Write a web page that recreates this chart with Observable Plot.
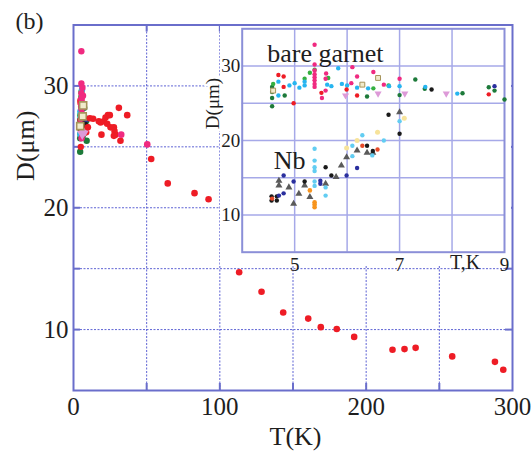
<!DOCTYPE html>
<html><head><meta charset="utf-8">
<script src="https://cdn.jsdelivr.net/npm/d3@7"></script>
<script src="https://cdn.jsdelivr.net/npm/@observablehq/plot@0.6"></script>
<style>
html,body{margin:0;padding:0;background:#fff;}
#wrap{position:relative;width:531px;height:451px;overflow:hidden;background:#fff;}
#wrap svg{position:absolute;left:0;top:0;}
#insetbg{position:absolute;left:220px;top:26px;width:291px;height:240px;background:#fff;}
</style></head><body>
<div id="wrap"></div>
<script>
// ---------- main panel data: T (K), D (µm) ----------
const mainRedT = [9.8,11.2,13.4,17.3,18.5,20.7,21.9,23.5,24.8,23.0,25.3,27.6,28.0,28.7,19.1,31.0,36.7,27.6,32.1,53.1,64.4,82.7,92.3,113.2,128.5,143.3,160.4,169.0,179.9,191.8,218,226.2,233.8,258.8,288,293.7];
const mainRedD = [26.6,27.35,27.3,27.1,27.0,27.1,27.4,27.6,27.6,26.9,26.6,26.6,26.3,26.0,26.0,28.2,27.6,25.9,25.5,24.0,22.0,21.2,20.7,14.7,13.1,11.4,10.9,10.2,10.05,9.4,8.35,8.4,8.5,7.8,7.35,6.7];
const mainMagentaT = [32.6,50.4];
const mainMagentaD = [26.0,25.2];

// ---------- bare garnet (low T, shown in inset and in main) ----------
const gMagenta = [[5.38,32.85],[5.38,30.2],[5.38,29.4],[5.38,28.9],[5.38,28.5],[5.38,28.1],[5.38,27.6],[5.38,27.2],[5.59,28.3],[5.6,29.0],[5.52,25.7],[6.08,27.7],[6.1,29.85],[6.19,28.6],[6.5,29.2],[6.7,27.5],[7.0,28.3],[5.59,26.7]];
const gRed = [[4.69,28.8],[4.79,28.6],[4.79,27.2],[4.98,25.0],[5.51,26.4],[5.99,26.85],[6.19,26.05],[8.7,26.2]];
const gCyan = [[4.69,27.9],[4.69,26.05],[4.9,27.4],[5.0,27.7],[5.09,27.1],[5.19,27.9],[5.19,27.4],[5.62,27.5],[5.7,27.3],[5.83,29.7],[5.9,27.6],[6.0,27.4],[6.19,27.1],[6.4,27.0],[6.8,27.3],[7.0,27.3],[7.49,27.2],[8.1,26.3]];
const gGreen = [[5.29,29.1],[5.38,29.5],[5.64,28.4],[5.19,28.3],[6.79,27.4],[6.5,27.0],[4.59,27.6]];
const gDarkGreen = [[4.57,27.2],[4.57,26.5],[4.57,25.7],[4.57,24.6],[4.81,26.05],[6.38,25.9],[7.0,26.1],[7.3,28.2],[7.48,26.95],[8.2,26.35],[8.7,27.15],[8.81,26.7],[9.0,25.5]];
const gBlack = [[7.61,26.85]];
const gNavy = [[8.81,27.3]];
const gPinkTri = [[5.97,26.05],[6.59,26.3],[7.1,26.3],[7.89,26.3]];
const gSquare = [[4.59,26.7],[6.29,27.5],[6.59,28.4]];

// ---------- Nb film ----------
const nbBlack = [[4.56,12.5],[4.56,11.95],[4.66,12.5],[4.66,11.95],[5.19,14.5],[5.59,16.4],[5.7,15.3],[6.38,19.3],[6.79,23.45],[7.0,20.9],[6.49,18.6]];
const nbTri = [[4.7,14.6],[4.7,13.95],[4.89,13.7],[5.08,12.85],[5.19,13.95],[4.98,11.5],[5.29,12.4],[5.59,14.2],[5.79,15.1],[5.89,16.65],[5.99,17.75],[6.19,18.65],[6.38,18.35],[6.49,18.35],[7.0,23.8]];
const nbNavy = [[4.79,15.3],[4.98,14.5],[4.7,12.6],[4.79,12.9],[5.49,14.6],[5.49,14.2],[6.19,16.3],[5.99,15.3]];
const nbCyan = [[5.38,18.9],[5.38,17.3],[5.38,16.4],[5.38,15.9],[5.38,14.5],[5.38,13.9],[5.59,13.7],[5.59,12.6],[6.1,17.9],[6.1,19.3],[6.29,20.7],[6.48,18.0],[6.7,20.0],[7.0,22.6]];
const nbOrange = [[5.29,13.3],[5.38,11.7],[5.38,11.4],[5.38,11.05]];
const nbRed = [[4.57,12.2],[6.29,19.3],[6.58,18.8]];
const nbYellow = [[5.99,19.0],[6.19,20.0],[6.58,21.1],[7.09,23.0]];

// ---------- axes ----------
const mainXTicks = [0,100,200,300];
const mainYTicks = [10,20,30];
const mainGridX = [50,100,150,200,250];
const mainGridY = [10,15,20,25,30];
const insetXTicks = [5,7,9];
const insetYTicks = [10,20,30];
const insetGridX = [5,6,7,8];
const insetGridY = [10,15,20,25,30];

const serif = "'Liberation Serif','Times New Roman',Times,serif";
const frameC = "#6a6ecb";
const gridC = "#4d52cf";
const ink = "#1e1e1e";
const C = {red:"#ee1c25", magenta:"#f02a80", cyan:"#27b5f0", green:"#35b040", dgreen:"#1d7a3a", black:"#1a1a1a", navy:"#2a2f9e", pink:"#dd9ad8", sqFill:"#f1ebcb", sqStroke:"#a6945c", nbTri:"#5a5a5a", nbCyan:"#62cdf2", orange:"#f7941d", nbRed:"#e64a2a", yellow:"#f7e39a"};

const px = d => d[0], py = d => d[1];
function garnetMarks(r) {
  return [
    Plot.dot(gDarkGreen, {x: px, y: py, r, fill: C.dgreen}),
    Plot.dot(gGreen, {x: px, y: py, r, fill: C.green}),
    Plot.dot(gCyan, {x: px, y: py, r, fill: C.cyan}),
    Plot.dot(gRed, {x: px, y: py, r, fill: C.red}),
    Plot.dot(gMagenta, {x: px, y: py, r, fill: C.magenta}),
    Plot.dot(gBlack, {x: px, y: py, r, fill: C.black}),
    Plot.dot(gNavy, {x: px, y: py, r, fill: C.navy}),
    Plot.dot(gPinkTri, {x: px, y: py, r: r * 1.2, symbol: "triangle", rotate: 180, fill: C.pink}),
    Plot.dot(gSquare, {x: px, y: py, r: r * 1.25, symbol: "square", fill: C.sqFill, stroke: C.sqStroke, strokeWidth: r > 2.5 ? 1.6 : 1})
  ];
}
const label = (s, o) => Plot.text([s], {text: d => d, textAnchor: "middle", lineAnchor: "middle", fontFamily: serif, fill: ink, ...o});

const plotH = 451 - 24.5 - 61, plotW = 531 - 73 - 19;
const mainSvg = Plot.plot({
  width: 531, height: 451,
  marginLeft: 73, marginRight: 19, marginTop: 24.5, marginBottom: 61,
  style: {background: "transparent", fontFamily: serif, color: ink, overflow: "visible"},
  x: {domain: [0, 300]},
  y: {domain: [5, 35]},
  marks: [
    Plot.gridX(mainGridX, {stroke: gridC, strokeOpacity: 0.9, strokeWidth: 1, strokeDasharray: "2,1.5"}),
    Plot.gridY(mainGridY, {stroke: gridC, strokeOpacity: 0.9, strokeWidth: 1, strokeDasharray: "2,1.5"}),
    Plot.tickX(mainGridX, {x: d => d, stroke: frameC, strokeWidth: 2, insetTop: plotH - 7}),
    Plot.tickX(mainGridX, {x: d => d, stroke: frameC, strokeWidth: 2, insetBottom: plotH - 7}),
    Plot.tickY(mainGridY, {y: d => d, stroke: frameC, strokeWidth: 2, insetRight: plotW - 7}),
    Plot.tickY(mainGridY, {y: d => d, stroke: frameC, strokeWidth: 2, insetLeft: plotW - 7}),
    Plot.frame({stroke: frameC, strokeWidth: 2}),
    Plot.axisX(mainXTicks, {tickSize: 0, tickPadding: 7, fontSize: 25, label: null, fill: ink, fontFamily: serif}),
    Plot.axisY(mainYTicks, {tickSize: 0, tickPadding: 5, fontSize: 25, label: null, fill: ink, fontFamily: serif}),
    ...garnetMarks(3.2),
    Plot.dot(mainRedT, {x: d => d, y: (d, i) => mainRedD[i], r: 3.3, fill: C.red}),
    Plot.dot(mainMagentaT, {x: d => d, y: (d, i) => mainMagentaD[i], r: 3.3, fill: C.magenta}),
    label("T(K)", {frameAnchor: "bottom", dx: 2.5, dy: 46, fontSize: 26}),
    label("D(μm)", {frameAnchor: "left", dx: -48, dy: -62, rotate: -90, fontSize: 26}),
    label("(b)", {frameAnchor: "top-left", dx: -44, dy: -4, fontSize: 24})
  ]
});

const insetSvg = Plot.plot({
  width: 531, height: 451,
  marginLeft: 241.7, marginRight: 27, marginTop: 28.3, marginBottom: 199.3,
  style: {background: "transparent", fontFamily: serif, color: ink, overflow: "visible"},
  x: {domain: [4, 9]},
  y: {domain: [5, 35]},
  marks: [
    Plot.gridX(insetGridX, {stroke: "#a6a9e8", strokeOpacity: 1, strokeWidth: 1.5}),
    Plot.gridY(insetGridY, {stroke: "#a6a9e8", strokeOpacity: 1, strokeWidth: 1.5}),
    Plot.frame({stroke: "#8b8fd8", strokeWidth: 2}),
    Plot.axisX(insetXTicks, {tickSize: 0, tickPadding: 5, fontSize: 19, label: null, fill: ink, fontFamily: serif}),
    Plot.axisY(insetYTicks, {tickSize: 0, tickPadding: 2, fontSize: 19, label: null, fill: ink, fontFamily: serif}),
    ...garnetMarks(2.2),
    Plot.dot(nbTri, {x: px, y: py, r: 2.6, symbol: "triangle", fill: C.nbTri}),
    Plot.dot(nbBlack, {x: px, y: py, r: 2.2, fill: C.black}),
    Plot.dot(nbNavy, {x: px, y: py, r: 2.2, fill: C.navy}),
    Plot.dot(nbCyan, {x: px, y: py, r: 2.2, fill: C.nbCyan}),
    Plot.dot(nbOrange, {x: px, y: py, r: 2.3, fill: C.orange}),
    Plot.dot(nbRed, {x: px, y: py, r: 2.2, fill: C.nbRed}),
    Plot.dot(nbYellow, {x: px, y: py, r: 2.5, fill: C.yellow}),
    label("bare garnet", {frameAnchor: "top-left", dx: 25, dy: 24.5, textAnchor: "start", fontSize: 26}),
    label("Nb", {frameAnchor: "top-left", dx: 31.5, dy: 131.5, textAnchor: "start", fontSize: 26}),
    label("T,K", {frameAnchor: "bottom-left", dx: 223, dy: 10, fontSize: 20}),
    label("D(μm)", {frameAnchor: "left", dx: -29.5, dy: -37, rotate: -90, fontSize: 19, stroke: "white", strokeWidth: 5})
  ]
});

const wrap = document.getElementById("wrap");
wrap.appendChild(mainSvg);
const bg = document.createElement("div");
bg.id = "insetbg";
wrap.appendChild(bg);
wrap.appendChild(insetSvg);
</script>
</body></html>
